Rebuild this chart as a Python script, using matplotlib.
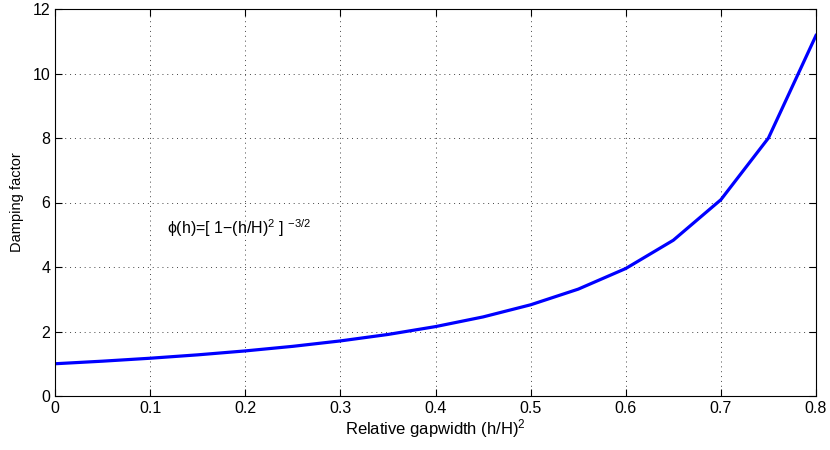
import matplotlib
matplotlib.use("Agg")
import matplotlib.pyplot as plt

plt.rcParams['font.family'] = ['Liberation Sans', 'DejaVu Sans']
plt.rcParams['mathtext.fontset'] = 'custom'
plt.rcParams['mathtext.rm'] = 'Liberation Sans'
plt.rcParams['mathtext.it'] = 'Liberation Sans:italic'
plt.rcParams['mathtext.default'] = 'regular'

gap = [0.0, 0.05, 0.1, 0.15, 0.2, 0.25, 0.3, 0.35, 0.4, 0.45,
       0.5, 0.55, 0.6, 0.65, 0.7, 0.75, 0.8]
damping = [1.0, 1.08, 1.171, 1.276, 1.398, 1.54, 1.708, 1.908, 2.152, 2.452,
           2.828, 3.313, 3.953, 4.83, 6.086, 8.0, 11.18]
xticks = [0, 0.1, 0.2, 0.3, 0.4, 0.5, 0.6, 0.7, 0.8]
xticklabels = ['0', '0.1', '0.2', '0.3', '0.4', '0.5', '0.6', '0.7', '0.8']
yticks = [0, 2, 4, 6, 8, 10, 12]

fig = plt.figure(figsize=(8.3, 4.5), dpi=100)
ax = fig.add_axes([55/830, 1-396/450, 761/830, 387/450])
ax.plot(gap, damping, color=(0, 0, 1), linewidth=2.3)

ax.set_xlim(0, 0.8)
ax.set_ylim(0, 12)
ax.set_xticks(xticks)
ax.set_xticklabels(xticklabels)
ax.set_yticks(yticks)
ax.grid(True, linestyle=(0, (1, 4)), color='#444444', linewidth=0.7)
ax.tick_params(direction='in', top=True, right=True, labelsize=11.5, length=5, width=0.8)
for s in ax.spines.values():
    s.set_linewidth(0.8)

ax.set_xlabel('Relative gapwidth (h/H)$^2$', fontsize=12, labelpad=1)
ax.set_ylabel('Damping factor', fontsize=10.5, labelpad=6)
ax.text(0.118, 5.2, '\u03d5(h)=[ 1\u2212(h/H)$^2$ ] $^{-3/2}$', fontsize=11.5,
        va='center')

fig.savefig('out.png', dpi=100)
